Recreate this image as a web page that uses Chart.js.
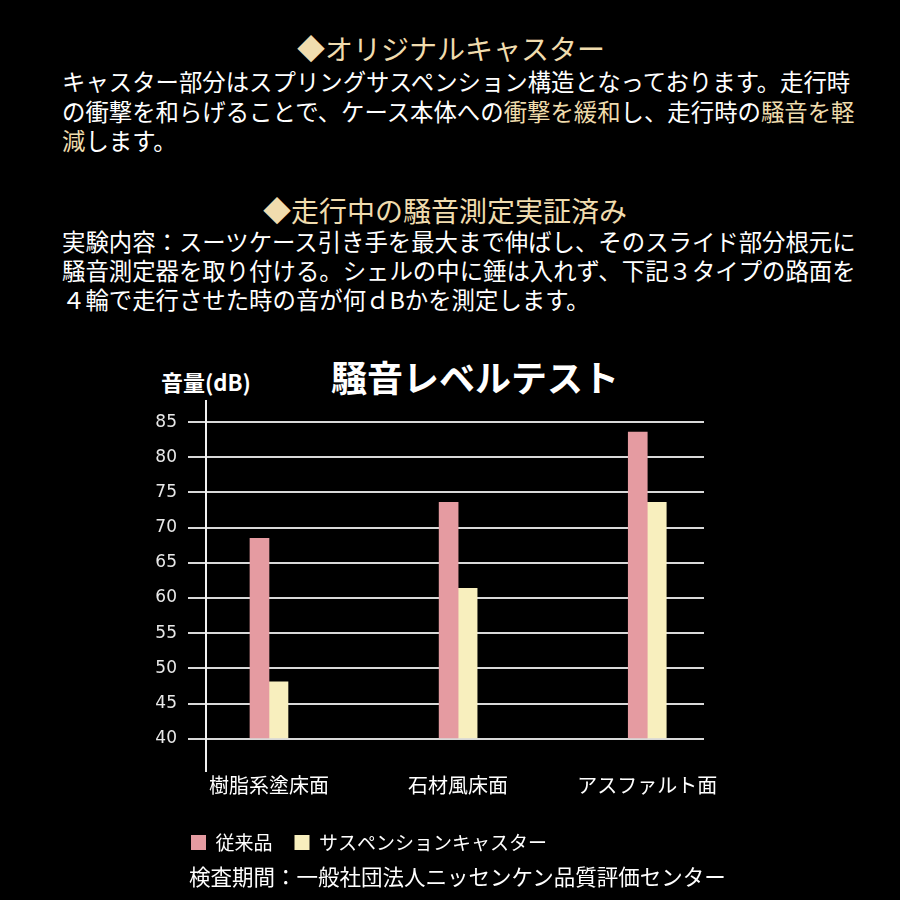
<!DOCTYPE html>
<html><head><meta charset="utf-8">
<script src="https://cdn.jsdelivr.net/npm/chart.js@4.4.1/dist/chart.umd.min.js"></script>
<style>
html,body{margin:0;padding:0;background:#000;}
body{width:900px;height:900px;position:relative;overflow:hidden;font-family:'Noto Sans CJK JP',sans-serif;color:#fff;}
.t{position:absolute;white-space:nowrap;line-height:1;transform:translateY(-50%);}
.c{transform:translate(-50%,-50%);}
.hl{color:#efdcac;}
.body{font-size:23.4px;left:62px;}
.h{font-size:28px;color:#f0dcae;}
#cv{position:absolute;left:0;top:340px;}
</style></head><body>
<div class="t c h" style="left:451px;top:48px">◆オリジナルキャスター</div>
<div class="t body" style="top:82px">キャスター部分はスプリングサスペンション構造となっております。走行時</div>
<div class="t body" style="top:112px">の衝撃を和らげることで、ケース本体への<span class="hl">衝撃を緩和</span>し、走行時の<span class="hl">騒音を軽</span></div>
<div class="t body" style="top:141px"><span class="hl">減</span>します。</div>
<div class="t c h" style="left:445px;top:210px">◆走行中の騒音測定実証済み</div>
<div class="t body" style="top:242px">実験内容：スーツケース引き手を最大まで伸ばし、そのスライド部分根元に</div>
<div class="t body" style="top:271px">騒音測定器を取り付ける。シェルの中に錘は入れず、下記３タイプの路面を</div>
<div class="t body" style="top:300px">４輪で走行させた時の音が何ｄBかを測定します。</div>
<div class="t c" style="left:475px;top:376px;font-size:36px;font-weight:bold;">騒音レベルテスト</div>
<div class="t" style="left:161px;top:381px;font-size:22px;font-weight:bold;">音量(dB)</div>
<canvas id="cv" width="900" height="560"></canvas>
<div class="t" style="left:189px;top:876px;font-size:21.5px;">検査期間：一般社団法人ニッセンケン品質評価センター</div>
<script>
const categories = ['樹脂系塗床面', '石材風床面', 'アスファルト面'];
const seriesNames = ['従来品', 'サスペンションキャスター'];
const conventional = [68.5, 73.6, 83.6];
const suspension = [48.1, 61.4, 73.6];
const yTickValues = [40, 45, 50, 55, 60, 65, 70, 75, 80, 85];
const yBase = 40;

Chart.defaults.font.family = "'Noto Sans CJK JP', sans-serif";
const toPoints = (arr) => categories.map((c, i) => ({ x: i + 1, y: arr[i] }));

const legendShift = {
  id: 'legendShift',
  afterLayout(chart) {
    const lg = chart.legend;
    if (lg) { lg.left += 19; lg.right += 19; }
  }
};

new Chart(document.getElementById('cv'), {
  type: 'bar',
  data: {
    datasets: [
      { label: seriesNames[0], data: toPoints(conventional), backgroundColor: '#e59ba1', borderWidth: 0, base: yBase, barThickness: 19 },
      { label: seriesNames[1], data: toPoints(suspension), backgroundColor: '#f8efbe', borderWidth: 0, base: yBase, barThickness: 19 }
    ]
  },
  plugins: [legendShift],
  options: {
    responsive: false,
    animation: false,
    events: [],
    layout: { padding: { left: 150, right: 196, top: 61, bottom: 38 } },
    plugins: {
      legend: {
        position: 'bottom', align: 'start',
        labels: { color: '#ffffff', font: { size: 19 }, boxWidth: 15, boxHeight: 15, padding: 22 }
      },
      tooltip: { enabled: false },
      title: { display: false }
    },
    scales: {
      x: {
        type: 'linear', min: 0.667, max: 3.3, offset: false,
        grid: { display: false, drawTicks: false },
        border: { display: false },
        afterBuildTicks: (a) => { a.ticks = categories.map((c, i) => ({ value: i + 1 })); },
        afterFit: (a) => { a.height = 40; },
        ticks: { color: '#ffffff', font: { size: 20 }, padding: 2, autoSkip: false, maxRotation: 0,
                 callback: (v) => categories[Math.round(v) - 1] }
      },
      y: {
        min: 35.43, max: 88,
        afterBuildTicks: (a) => { a.ticks = yTickValues.map(v => ({ value: v })); },
        afterFit: (a) => { a.width = 56; },
        grid: { color: '#d8d8d8', lineWidth: 2, tickLength: 18, drawTicks: true },
        border: { display: true, color: '#f0f0f0', width: 2 },
        ticks: { color: '#e8e8e8', font: { family: 'DejaVu Sans', size: 17 }, padding: 11 }
      }
    }
  }
});
</script>
</body></html>
